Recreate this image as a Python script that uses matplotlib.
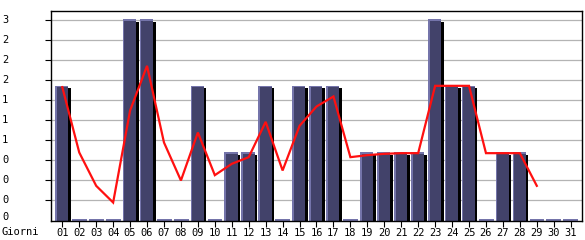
import matplotlib
matplotlib.use("Agg")
import matplotlib.pyplot as plt
from matplotlib.patches import Rectangle

days = list(range(1, 32))
day_labels = [f"{d:02d}" for d in days]
bar_values = [2, 0, 0, 0, 3, 3, 0, 0, 2, 0, 1, 1, 2, 0, 2, 2, 2, 0, 1, 1, 1, 1, 3, 2, 2, 0, 1, 1, 0, 0, 0]
line_days = list(range(1, 30))
line_values = [2.0, 1.02, 0.52, 0.27, 1.65, 2.32, 1.17, 0.60, 1.32, 0.68, 0.85, 0.95, 1.48, 0.75,
               1.42, 1.71, 1.86, 0.95, 0.98, 1.00, 1.01, 1.01, 2.02, 2.02, 2.02, 1.01, 1.01, 1.01, 0.52]
y_ticks = [0.3 * k for k in range(11)]
y_tick_labels = [str(int(round(v, 6))) for v in y_ticks]
x_axis_title = "Giorni"

W, H = 585, 240
fig = plt.figure(figsize=(W / 100, H / 100), dpi=100)
ax = fig.add_axes([51 / W, (H - 220.5) / H, (582 - 51) / W, (220.5 - 11) / H])
ax.set_xlim(0.333, 31.667)
ax.set_ylim(0, (220.5 - 11) / 66.67)

FACE = "#42426a"
EDGE = "#7474aa"
FONT = "DejaVu Sans Mono"
FS = 7.5

for y in y_ticks[1:]:
    ax.axhline(y, color="#b4b4b4", lw=0.9, zorder=0)

for d, v in zip(days, bar_values):
    if v > 0:
        ax.add_patch(Rectangle((d - 0.30, 0), 0.80, v - 0.02, facecolor="black", edgecolor="none", zorder=2))
        ax.add_patch(Rectangle((d - 0.43, 0), 0.78, v + 0.02, facecolor=EDGE, edgecolor="none", zorder=3))
        ax.add_patch(Rectangle((d - 0.33, 0), 0.68, v - 0.005, facecolor=FACE, edgecolor="none", zorder=4))
    else:
        ax.add_patch(Rectangle((d - 0.43, 0), 0.88, 0.025, facecolor=EDGE, edgecolor="none", zorder=3))

ax.plot(line_days, line_values, color="#ff1010", lw=1.6, zorder=6, solid_joinstyle="miter")

for s in ax.spines.values():
    s.set_color("black")
    s.set_linewidth(1.0)
    s.set_zorder(7)

ax.set_xticks(days)
ax.set_xticklabels(day_labels, fontfamily=FONT, fontsize=FS)
ax.tick_params(axis="x", length=4, width=0.8, pad=1.2, colors="black")

# y tick marks (labels drawn as text at the figure's left edge)
ax.set_yticks(y_ticks)
ax.set_yticklabels([""] * len(y_ticks))
ax.tick_params(axis="y", length=4.3, width=0.8, colors="black")
ax.yaxis.get_major_ticks()[0].tick1line.set_visible(False)
for k, (v, lab) in enumerate(zip(y_ticks, y_tick_labels)):
    ypix = 220.5 - v * 66.67
    if k == 0:
        ypix -= 3
    fig.text(2 / W, 1 - ypix / H, lab, fontfamily=FONT, fontsize=FS, ha="left", va="center")

fig.text(1 / W, 1 - 232 / H, x_axis_title, fontfamily=FONT, fontsize=FS, ha="left", va="center")

fig.savefig("out.png", dpi=100)
